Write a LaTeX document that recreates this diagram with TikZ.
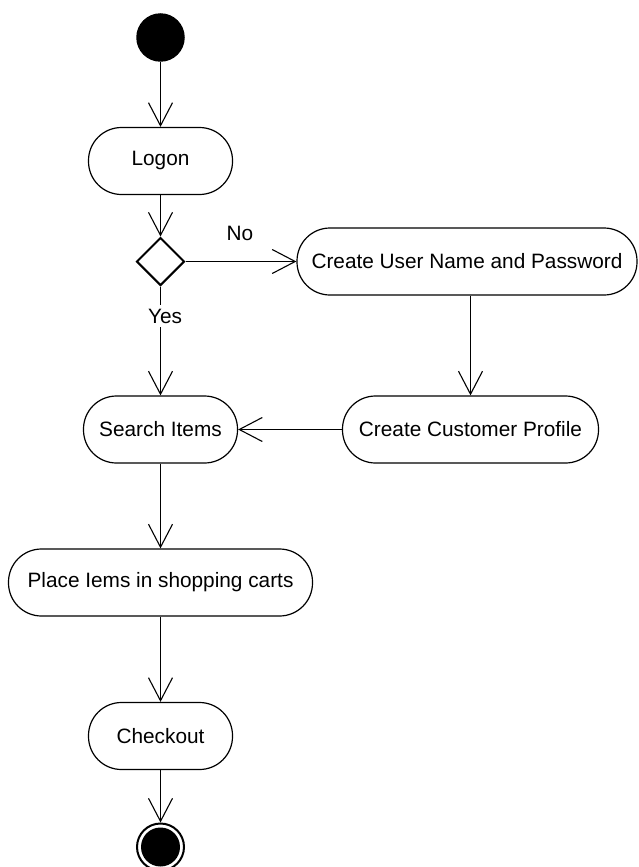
\documentclass[tikz,border=0pt]{standalone}
\usepackage{fontspec}
\setmainfont{Liberation Sans}
\usetikzlibrary{arrows.meta,shapes.geometric}
\begin{document}
\begin{tikzpicture}[x=1pt,y=-1pt,
  every node/.style={font=\fontsize{20.8}{24}\selectfont},
  act/.style={draw,line width=1.2pt,rectangle,rounded corners=33pt,minimum height=67pt,inner sep=0pt},
  arr/.style={line width=1.1pt,-{Straight Barb[length=23pt,width=24pt,line width=1.1pt]}},
  lbl/.style={inner sep=0pt}]
\useasboundingbox (0,0) rectangle (638,867);
\fill[white] (0,0) rectangle (638,867);
% initial
\node[circle,fill=black,minimum size=48.5pt,inner sep=0pt] (start) at (160.5,37.5) {};
\node[act,minimum width=144pt] (logon) at (160.5,161) {Logon};
\node[draw,diamond,aspect=1,line width=2pt,minimum width=48pt,minimum height=48pt,inner sep=0pt] (dec) at (160.5,261.5) {};
\node[act,minimum width=340pt] (create) at (467,261.5) {Create User Name and Password};
\node[act,minimum width=256pt] (profile) at (470.5,429.5) {Create Customer Profile};
\node[act,minimum width=154pt] (search) at (160.5,429.5) {Search Items};
\node[act,minimum width=304pt] (place) at (160.5,582.5) {Place Iems in shopping carts};
\node[act,minimum width=144pt] (checkout) at (160.5,736) {Checkout};
% final
\node[circle,draw,line width=2pt,minimum size=47pt,inner sep=0pt] (final) at (160.5,847) {};
\fill (final.center) circle (19.5pt);
% connectors
\draw[arr] (start) -- (logon);
\draw[arr] (logon) -- (dec);
\draw[arr] (dec.east) -- (create.west);
\draw[arr] (create.south -| profile.north) -- (profile.north);
\draw[arr] (profile.west) -- (search.east);
\draw[arr] (dec.south) -- (search.north);
\draw[arr] (search) -- (place);
\draw[arr] (place) -- (checkout);
\draw[arr] (checkout) -- (final);
% labels
\node[lbl] (no) at (240,233) {No};
\node[lbl,fill=white,inner ysep=4pt,inner xsep=2pt] (yes) at (165,316) {Yes};
\end{tikzpicture}
\end{document}
